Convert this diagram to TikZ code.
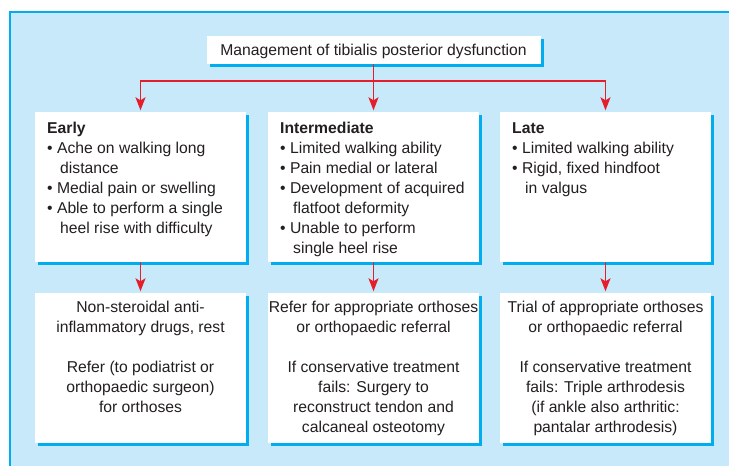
\documentclass[tikz,border=0pt]{standalone}
\usepackage{fontspec}
\setmainfont{Liberation Sans}
\usetikzlibrary{shadows,arrows.meta}
\definecolor{panelblue}{HTML}{C7E9F9}
\definecolor{cyanline}{HTML}{00AEEF}
\definecolor{arrred}{HTML}{E41E2B}
\definecolor{ink}{HTML}{231F20}
\tikzset{
  box/.style={draw=none, fill=white, inner sep=0pt,
    copy shadow={shadow xshift=3pt, shadow yshift=-3pt, fill=cyanline, draw=none}},
  txt/.style={inner sep=0pt, text=ink, font=\fontsize{15.7}{20}\selectfont},
  arr/.style={draw=arrred, line width=1.6pt, -{Stealth[length=13pt,width=10pt,inset=3pt]}, shorten >=1.5pt}
}
\newcommand{\ind}{\hspace*{13pt}}
\begin{document}
\begin{tikzpicture}[x=1pt,y=-1pt]
\useasboundingbox (0,0) rectangle (729,466);
\fill[white] (0,0) rectangle (729,466);
\draw[fill=panelblue, draw=cyanline, line width=1.3pt] (10,12) rectangle (745,480);

% title
\node[box, minimum width=334pt, minimum height=28pt] (title) at (373.5,50) {};
\node[txt, anchor=base] (titleT) at (373.5,55) {Management of tibialis posterior dysfunction};

% upper boxes
\node[box, minimum width=211pt, minimum height=150pt] (early) at (140.5,187) {};
\node[box, minimum width=211pt, minimum height=150pt] (inter) at (373.5,187) {};
\node[box, minimum width=211pt, minimum height=150pt] (late) at (605.5,187) {};

% anchor base = baseline of the last line
\node[txt, align=left, anchor=base west] (earlyT) at (47,233) {\textbf{Early}\\
\textbullet\ Ache on walking long\\
\ind distance\\
\textbullet\ Medial pain or swelling\\
\textbullet\ Able to perform a single\\
\ind heel rise with difficulty};

\node[txt, align=left, anchor=base west] (interT) at (280,253) {\textbf{Intermediate}\\
\textbullet\ Limited walking ability\\
\textbullet\ Pain medial or lateral\\
\textbullet\ Development of acquired\\
\ind flatfoot deformity\\
\textbullet\ Unable to perform\\
\ind single heel rise};

\node[txt, align=left, anchor=base west] (lateT) at (512,193) {\textbf{Late}\\
\textbullet\ Limited walking ability\\
\textbullet\ Rigid, fixed hindfoot\\
\ind in valgus};

% lower boxes
\node[box, minimum width=211pt, minimum height=150pt] (earlyB) at (140.5,368) {};
\node[box, minimum width=211pt, minimum height=150pt] (interB) at (373.5,368) {};
\node[box, minimum width=211pt, minimum height=150pt] (lateB) at (605.5,368) {};

\node[txt, align=center, anchor=base] (earlyBT) at (140.5,412) {Non-steroidal anti-\\
inflammatory drugs, rest\\[20pt]
Refer (to podiatrist or\\
orthopaedic surgeon)\\
for orthoses};

\node[txt, align=center, anchor=base] (interBT) at (373.5,432) {Refer for appropriate orthoses\\
or orthopaedic referral\\[20pt]
If conservative treatment\\
fails: Surgery to\\
reconstruct tendon and\\
calcaneal osteotomy};

\node[txt, align=center, anchor=base] (lateBT) at (605.5,432) {Trial of appropriate orthoses\\
or orthopaedic referral\\[20pt]
If conservative treatment\\
fails: Triple arthrodesis\\
(if ankle also arthritic:\\
pantalar arthrodesis)};

% connectors
\coordinate (hub) at (373.5,81);
\draw[arr] (title.south) -- (inter.north);
\draw[arr] (hub) -| (early.north);
\draw[arr] (hub) -| (late.north);
\draw[arr] (early.south) -- (earlyB.north);
\draw[arr] (inter.south) -- (interB.north);
\draw[arr] (late.south) -- (lateB.north);
\end{tikzpicture}
\end{document}
